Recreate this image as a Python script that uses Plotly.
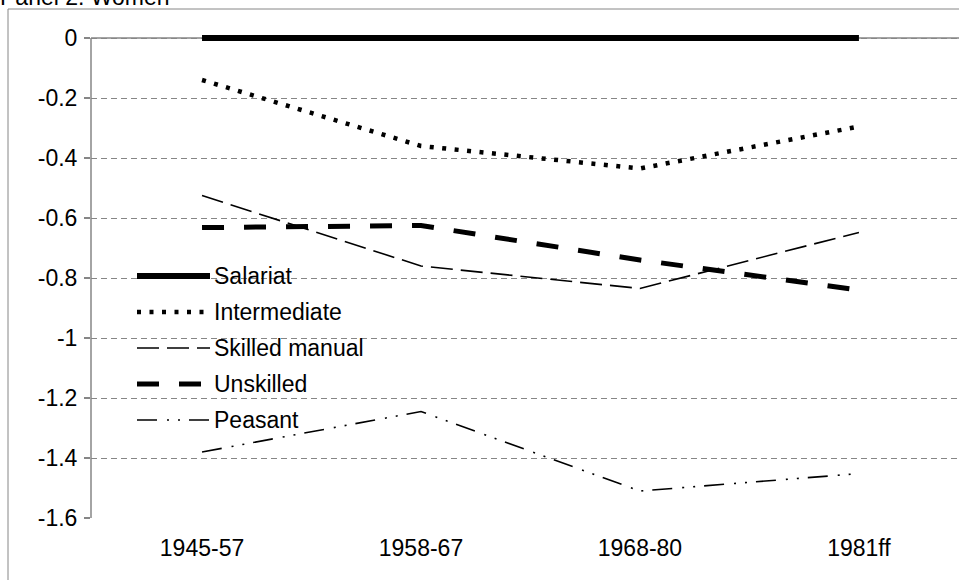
import plotly.graph_objects as go

periods = ["1945-57", "1958-67", "1968-80", "1981ff"]
salariat = [0, 0, 0, 0]
intermediate = [-0.14, -0.36, -0.435, -0.295]
skilled_manual = [-0.525, -0.76, -0.835, -0.648]
unskilled = [-0.632, -0.625, -0.74, -0.84]
peasant = [-1.38, -1.245, -1.51, -1.452]
y_ticks = [0, -0.2, -0.4, -0.6, -0.8, -1, -1.2, -1.4, -1.6]

series = [
    ("Salariat", salariat, dict(color="black", width=6, dash="solid")),
    ("Intermediate", intermediate, dict(color="black", width=4.5, dash="4px,8.5px")),
    ("Skilled manual", skilled_manual, dict(color="black", width=1.6, dash="22px,8px")),
    ("Unskilled", unskilled, dict(color="black", width=5, dash="22px,20px")),
    ("Peasant", peasant, dict(color="black", width=1.6, dash="20px,10px,2px,9px,2px,9px")),
]

Y_MIN, Y_MAX = -1.6, 0.03
W, H = 959, 580
L, R, B = 91, 0, 62
ZERO_PX = 38
PX_PER_UNIT = 300
T = ZERO_PX - round(Y_MAX * PX_PER_UNIT)
PW, PH = W - L - R, H - T - B
GRAY = "#868686"
FS = 23

def px(x):
    return (x - L) / PW

def py(y):
    return (H - B - y) / PH

fig = go.Figure()
for name, vals, ln in series:
    fig.add_trace(go.Scatter(x=periods, y=vals, mode="lines", name=name,
                             line=ln, showlegend=False, hoverinfo="skip"))

shapes = []
annotations = []
# zero line (horizontal axis line)
shapes.append(dict(type="line", xref="paper", yref="y", x0=0, x1=1, y0=0, y1=0,
                   line=dict(color=GRAY, width=1.5), layer="below"))
# vertical axis line
shapes.append(dict(type="line", xref="paper", yref="y", x0=0, x1=0, y0=Y_MIN, y1=0,
                   line=dict(color=GRAY, width=1.5), layer="below"))
# outer border
shapes.append(dict(type="rect", xref="paper", yref="paper", x0=px(8), x1=px(975),
                   y0=py(600), y1=py(9), line=dict(color=GRAY, width=1)))
# manual legend
rows = [276, 312, 348, 384, 420]
for (name, vals, ln), ry in zip(series, rows):
    shapes.append(dict(type="line", xref="paper", yref="paper", x0=px(137), x1=px(210),
                       y0=py(ry), y1=py(ry), line=ln, layer="above"))
    annotations.append(dict(text=name, xref="paper", yref="paper", x=px(212), y=py(ry),
                            xanchor="left", yanchor="middle", showarrow=False,
                            font=dict(size=FS, color="black")))
# title
annotations.append(dict(text="Panel 2: Women", xref="paper", yref="paper", x=px(-2), y=py(-3),
                        xanchor="left", yanchor="middle", showarrow=False,
                        font=dict(size=FS, color="black")))

fig.update_layout(
    width=W, height=H,
    margin=dict(l=L, r=R, t=T, b=B, pad=0),
    paper_bgcolor="white", plot_bgcolor="white",
    font=dict(family="Liberation Sans, Arial, sans-serif", size=FS, color="black"),
    shapes=shapes, annotations=annotations,
    showlegend=False,
    xaxis=dict(showgrid=False, zeroline=False, showline=False, ticks="",
               tickfont=dict(size=FS), range=[-0.507, 3.457], ticklabelstandoff=14),
    xaxis2=dict(overlaying="x", side="top", range=[-0.507, 3.457], tickvals=[0.5, 1.5, 2.5],
                ticks="inside", ticklen=4, tickcolor=GRAY, tickwidth=1.5,
                showticklabels=False, showgrid=False, zeroline=False, showline=False,
                anchor="free", position=py(ZERO_PX)),
    yaxis=dict(range=[Y_MIN, Y_MAX], tickvals=y_ticks, ticktext=[f"{v:g}" for v in y_ticks],
               showgrid=True, gridcolor=GRAY, griddash="6px,4px", gridwidth=1.3,
               zeroline=False, showline=False,
               ticks="outside", ticklen=6, tickcolor=GRAY, tickwidth=1.5,
               tickfont=dict(size=FS), ticklabelstandoff=2),
)

fig.write_html("out.html", config={"displayModeBar": False},
               post_script="document.body.style.margin='0';document.body.style.overflow='hidden';")
